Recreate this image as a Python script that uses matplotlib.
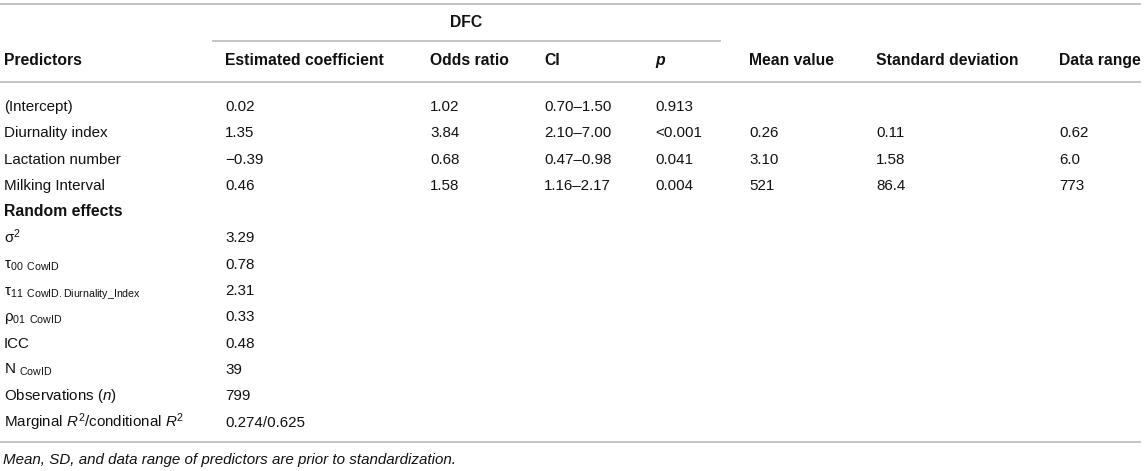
import matplotlib
matplotlib.use("Agg")
import matplotlib.pyplot as plt

plt.rcParams["font.family"] = ["Liberation Sans", "DejaVu Sans"]
plt.rcParams["mathtext.fontset"] = "custom"
plt.rcParams["mathtext.rm"] = "Liberation Sans"
plt.rcParams["mathtext.it"] = "Liberation Sans:italic"
plt.rcParams["mathtext.bf"] = "Liberation Sans:bold"

# table content
headers = ["Predictors", "Estimated coefficient", "Odds ratio", "CI", "p",
           "Mean value", "Standard deviation", "Data range"]
predictors = ["(Intercept)", "Diurnality index", "Lactation number", "Milking Interval"]
coef = ["0.02", "1.35", "\u22120.39", "0.46"]
odds = ["1.02", "3.84", "0.68", "1.58"]
ci = ["0.70\u20131.50", "2.10\u20137.00", "0.47\u20130.98", "1.16\u20132.17"]
pval = ["0.913", "<0.001", "0.041", "0.004"]
mean_val = ["", "0.26", "3.10", "521"]
sd_val = ["", "0.11", "1.58", "86.4"]
data_range = ["", "0.62", "6.0", "773"]

random_labels = ["\u03c3$^{2}$", "\u03c4$_{00}$ $_{\\mathrm{CowID}}$",
                 "\u03c4$_{11}$ $_{\\mathrm{CowID.Diurnality\\_Index}}$",
                 "\u03c1$_{01}$ $_{\\mathrm{CowID}}$", "ICC", "N $_{\\mathrm{CowID}}$",
                 "Observations ($\\mathit{n}$)",
                 "Marginal $\\mathit{R}^{2}$/conditional $\\mathit{R}^{2}$"]
random_values = ["3.29", "0.78", "2.31", "0.33", "0.48", "39", "799", "0.274/0.625"]

footnote = "Mean, SD, and data range of predictors are prior to standardization."

# layout (pixels)
col_x = [4, 225, 430, 544, 655, 749, 876, 1059]
row0, drow = 106, 26.3
txt = "#111111"
line_c = "#c4c4c4"
fs = 10.9
fsb = 11.3

fig = plt.figure(figsize=(11.45, 4.71), dpi=100)
ax = fig.add_axes([0, 0, 1, 1])
ax.set_xlim(0, 1145)
ax.set_ylim(471, 0)
ax.axis("off")

def put(x, yc, s, **kw):
    ax.text(x, yc + 5, s, va="baseline", ha="left", color=txt, **kw)

# rules
ax.hlines(4, 0, 1141, color=line_c, lw=1.4)
ax.hlines(41, 212, 721, color=line_c, lw=1.4)
ax.hlines(82, 0, 1141, color=line_c, lw=1.4)
ax.hlines(442, 0, 1141, color=line_c, lw=1.4)

put(450, 22, "DFC", fontsize=fsb, fontweight="bold")
for i, h in enumerate(headers):
    if h == "p":
        put(col_x[i], 60, h, fontsize=fsb, fontweight="bold", fontstyle="italic")
    else:
        put(col_x[i], 60, h, fontsize=fsb, fontweight="bold")

cols = [predictors, coef, odds, ci, pval, mean_val, sd_val, data_range]
for r in range(len(predictors)):
    y = row0 + r * drow
    for c, col in enumerate(cols):
        if col[r]:
            put(col_x[c], y, col[r], fontsize=fs)

y = row0 + len(predictors) * drow
put(col_x[0], y, "Random effects", fontsize=fsb, fontweight="bold")
for k, (lab, val) in enumerate(zip(random_labels, random_values)):
    y = row0 + (len(predictors) + 1 + k) * drow
    put(col_x[0], y, lab, fontsize=fs)
    put(col_x[1], y, val, fontsize=fs)

put(col_x[0] - 1, 459, footnote, fontsize=fs, fontstyle="italic")

fig.savefig("out.png", dpi=100)
